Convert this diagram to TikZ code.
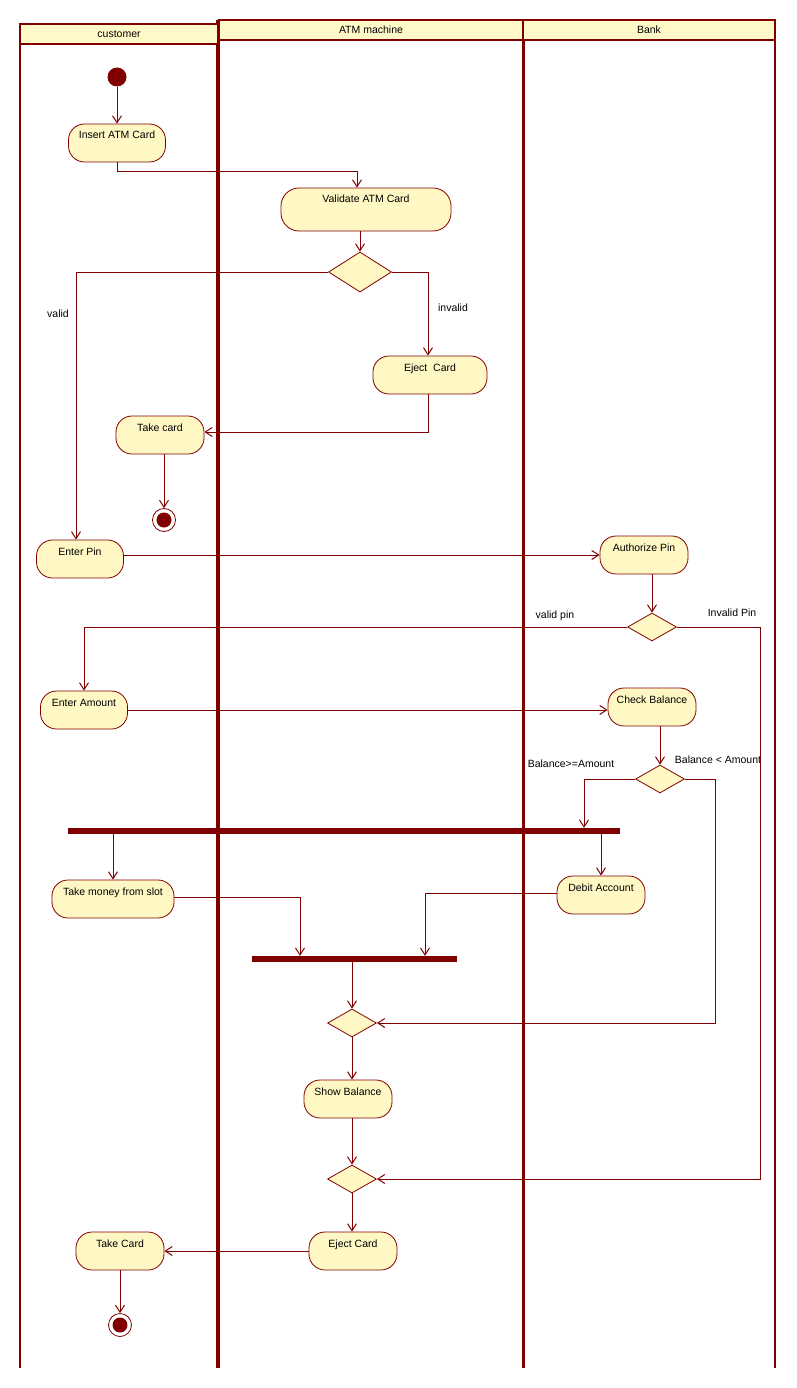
\documentclass[tikz,border=0pt]{standalone}
\usepackage{fontspec}
\setmainfont{Liberation Sans}
\usetikzlibrary{arrows.meta,shapes.geometric,calc}
\definecolor{maroon}{RGB}{128,0,0}
\definecolor{cream}{RGB}{255,248,196}
\definecolor{headcream}{RGB}{255,250,200}
\tikzset{
  >={Straight Barb[length=7pt,width=9pt]},
  act/.style={draw=maroon,fill=cream,line width=0.8pt,rounded corners=16pt,
    minimum width=#1,minimum height=38pt,inner ysep=7pt,
    text height=8pt,text depth=16pt,font=\fontsize{10.5}{12}\selectfont},
  act/.default=88pt,
  choice/.style={diamond,draw=maroon,fill=cream,line width=0.8pt,inner sep=0pt,
    minimum width=49pt,minimum height=28pt},
  bar/.style={fill=maroon,inner sep=0pt,minimum height=6pt,minimum width=#1},
  start/.style={circle,fill=maroon,inner sep=0pt,minimum size=19pt},
  stop/.style={circle,draw=maroon,fill=white,line width=0.8pt,inner sep=0pt,minimum size=23pt,
    path picture={\fill[maroon] (path picture bounding box.center) circle (7.5pt);}},
  lanehead/.style={draw=maroon,fill=headcream,line width=2.5pt,minimum height=20pt,
    minimum width=#1,inner sep=0pt,font=\fontsize{10.5}{12}\selectfont},
  flow/.style={->,draw=maroon,line width=1pt},
  tag/.style={font=\fontsize{10.5}{12}\selectfont,inner sep=1pt},
}
\begin{document}
\begin{tikzpicture}[x=1pt,y=-1pt]
  \useasboundingbox (0,0) rectangle (796,1388);
  % swimlanes
  \draw[maroon,line width=2pt] (20,24) -- (20,1368);
  \draw[maroon,line width=4pt] (218,20) -- (218,1368);
  \draw[maroon,line width=3pt] (523,20) -- (523,1368);
  \draw[maroon,line width=2pt] (775,20) -- (775,1368);
  \node[lanehead=198pt] (hcust) at (119,34) {customer};
  \node[lanehead=304pt] (hatm) at (371,30) {ATM machine};
  \node[lanehead=252pt] (hbank) at (649,30) {Bank};

  % activities
  \node[start] (init) at (117,77) {};
  \node[act=97pt] (insert) at (117,143) {Insert ATM Card};
  \node[act=170pt,text depth=21pt,rounded corners=18pt] (validate) at (366,209.5) {Validate ATM Card};
  \node[choice,minimum width=63pt,minimum height=40pt] (check) at (360,272) {};
  \node[act=114pt] (ejectA) at (430,375) {Eject\ \ Card};
  \node[act] (takeA) at (160,435) {Take card};
  \node[stop] (endA) at (164,520) {};
  \node[act=87pt] (pin) at (80,559) {Enter Pin};
  \node[act] (auth) at (644,555) {Authorize Pin};
  \node[choice] (pinok) at (652,627) {};
  \node[act=87pt] (amount) at (84,710) {Enter Amount};
  \node[act] (balance) at (652,707) {Check Balance};
  \node[choice] (enough) at (660,779) {};
  \node[bar=552pt] (fork) at (344,831) {};
  \node[act=122pt] (money) at (113,899) {Take money from slot};
  \node[act] (debit) at (601,895) {Debit Account};
  \node[bar=205pt] (join) at (354,959) {};
  \node[choice] (mergeA) at (352,1023) {};
  \node[act] (show) at (348,1099) {Show Balance};
  \node[choice] (mergeB) at (352,1179) {};
  \node[act] (ejectB) at (353,1251) {Eject Card};
  \node[act] (takeB) at (120,1251) {Take Card};
  \node[stop] (endB) at (120,1325) {};

  % guard labels
  \node[tag] (lvalid) at (58,314) {valid};
  \node[tag] (linvalid) at (453,308) {invalid};
  \node[tag] (lpinok) at (555,616) {valid pin};
  \node[tag] (lpinbad) at (732,613) {Invalid Pin};
  \node[tag] (lenough) at (571,764) {Balance>=Amount};
  \node[tag] (lshort) at (718,760) {Balance < Amount};

  % flows
  \draw[flow] (init) -- (insert);
  \draw[flow] (insert.south) -- ++(0,9) -| ($(validate.north)+(-9,0)$);
  \draw[flow] (validate.south -| check) -- (check);
  \draw[flow] (check.west) -| ($(pin.north)+(-4,0)$);
  \draw[flow] (check.east) -| ($(ejectA.north)+(-2,0)$);
  \draw[flow] ($(ejectA.south)+(-2,0)$) |- ($(takeA.east)+(0,-3)$);
  \draw[flow] (takeA.south -| endA) -- (endA);
  \draw[flow] (pin.east |- auth.west) -- (auth.west);
  \draw[flow] (auth.south -| pinok) -- (pinok);
  \draw[flow] (pinok.west) -| (amount);
  \draw[flow] (pinok.east) -| ($(mergeB.east)+(384,0)$) -- (mergeB.east);
  \draw[flow] (amount.east) -- (amount.east -| balance.west);
  \draw[flow] (balance.south -| enough) -- (enough);
  \draw[flow] (enough.west) -| ($(fork.north)+(240,0)$);
  \draw[flow] (enough.east) -| ($(mergeA.east)+(339,0)$) -- (mergeA.east);
  \draw[flow] (money.north |- fork.south) -- (money.north);
  \draw[flow] (debit.north |- fork.south) -- (debit.north);
  \draw[flow] ($(money.east)+(0,-2)$) -| ($(join.north)+(-54,0)$);
  \draw[flow] ($(debit.west)+(0,-2)$) -| ($(join.north)+(71,0)$);
  \draw[flow] (join.south -| mergeA) -- (mergeA);
  \draw[flow] (mergeA) -- (mergeA |- show.north);
  \draw[flow] (show.south -| mergeB) -- (mergeB);
  \draw[flow] (mergeB) -- (mergeB |- ejectB.north);
  \draw[flow] (ejectB) -- (takeB);
  \draw[flow] (takeB) -- (endB);
\end{tikzpicture}
\end{document}
